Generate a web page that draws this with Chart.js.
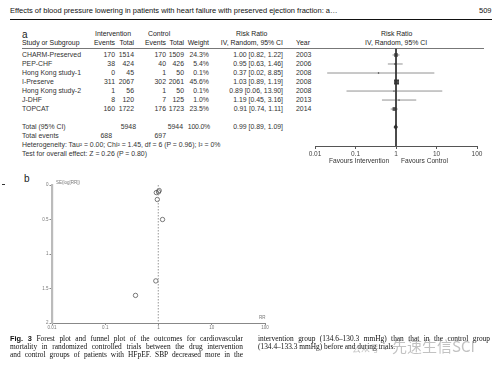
<!DOCTYPE html>
<html>
<head>
<meta charset="utf-8">
<script src="https://cdn.jsdelivr.net/npm/chart.js@4.4.0/dist/chart.umd.min.js"></script>
<style>
body{margin:0;width:498px;height:368px;background:#fff;position:relative;overflow:hidden;font-family:"Liberation Sans",Arial,sans-serif;}
.t{position:absolute;white-space:nowrap;font-size:6.9px;line-height:1;color:#333;}
.r{text-align:right;}
.cap{position:absolute;font-family:"Liberation Serif","Times New Roman",serif;font-size:7.4px;line-height:1;color:#111;white-space:nowrap;}
.j{text-align:justify;text-align-last:justify;white-space:normal;}
canvas{position:absolute;}
</style>
</head>
<body>
<div class="t" style="left:10px;top:7.3px;font-size:7.5px;color:#111">Effects of blood pressure lowering in patients with heart failure with preserved ejection fraction: a…</div>
<div class="t" style="left:479px;top:7.3px;font-size:7.5px;color:#111">509</div>
<div style="position:absolute;left:10px;top:18.7px;width:482px;height:1.6px;background:#111"></div>

<div class="t" style="left:22px;top:30px;font-size:10px;color:#222">a</div>
<div style="position:absolute;left:22px;top:48px;width:462px;height:1px;background:#777"></div>
<div id="table"></div>

<div style="position:absolute;left:305px;top:40px;width:182px;height:124px"><canvas id="forest" width="182" height="124"></canvas></div>
<div class="t" style="left:329px;top:157.5px;font-size:6.6px">Favours Intervention</div>
<div class="t" style="left:401px;top:157.5px;font-size:6.6px">Favours Control</div>

<div class="t" style="left:24px;top:174px;font-size:10px;color:#222">b</div>
<div style="position:absolute;left:2px;top:184px;width:3px;height:0.8px;background:#333"></div>
<div style="position:absolute;left:20px;top:176px;width:255px;height:160px"><canvas id="funnel" width="255" height="160"></canvas></div>
<div class="t" style="left:56px;top:181px;font-size:4.5px;color:#777">SE(log[RR])</div>
<div class="t" style="left:259px;top:316px;font-size:4.5px;color:#777">RR</div>

<div class="cap j" style="left:10px;top:335px;width:233px"><b style="font-family:'Liberation Sans',Arial,sans-serif">Fig. 3</b> Forest plot and funnel plot of the outcomes for cardiovascular</div>
<div class="cap j" style="left:10px;top:343px;width:233px">mortality in randomized controlled trials between the drug intervention</div>
<div class="cap j" style="left:10px;top:351px;width:233px">and control groups of patients with HFpEF. SBP decreased more in the</div>
<div class="cap j" style="left:258px;top:335px;width:232px">intervention group (134.6–130.3 mmHg) than that in the control group</div>
<div class="cap" style="left:258px;top:343px">(134.4–133.3 mmHg) before and during trials.</div>
<div class="t" style="left:352px;top:344px;font-size:9px;color:rgba(120,120,120,0.45);font-family:'Noto Sans CJK SC',sans-serif">公众号 ·</div>
<div class="t" style="left:392px;top:338px;font-size:15px;color:rgba(120,120,120,0.45);font-family:'Noto Sans CJK SC',sans-serif">先速生信SCI</div>

<script>
// data
const studies = ['CHARM-Preserved', 'PEP-CHF', 'Hong Kong study-1', 'I-Preserve', 'Hong Kong study-2', 'J-DHF', 'TOPCAT'];
const intEvents = [170, 38, 0, 311, 1, 8, 160];
const intTotal = [1514, 424, 45, 2067, 56, 120, 1722];
const ctlEvents = [170, 40, 1, 302, 1, 7, 176];
const ctlTotal = [1509, 426, 50, 2061, 50, 125, 1723];
const weights = [24.3, 5.4, 0.1, 45.6, 0.1, 1.0, 23.5];
const rr = [1.00, 0.95, 0.37, 1.03, 0.89, 1.19, 0.91];
const ciLow = [0.82, 0.63, 0.02, 0.89, 0.06, 0.45, 0.74];
const ciHigh = [1.22, 1.46, 8.85, 1.19, 13.90, 3.16, 1.11];
const years = [2003, 2006, 2008, 2008, 2008, 2013, 2014];
const seLogRR = [0.10, 0.21, 1.60, 0.08, 1.39, 0.50, 0.11];

const pooled = 0.99, pooledLow = 0.89, pooledHigh = 1.09;
const totalInt = 5948, totalCtl = 5944, eventsInt = 688, eventsCtl = 697;

const logTicks = [0.01, 0.1, 1, 10, 100];
const logTickLabels = ['0.01', '0.1', '1', '10', '100'];
const seTicks = [0, 0.5, 1, 1.5, 2];
const seTickLabels = ['0', '0.5', '1', '1.5', '2'];

// table text
const table = document.getElementById('table');
function cell(txt, x, y, right, extra) {
    var d = document.createElement('div');
    d.className = 't' + (right ? ' r' : '');
    d.textContent = txt;
    if (right) d.style.right = (498 - x) + 'px';
    else d.style.left = x + 'px';
    d.style.top = (y - 3.7) + 'px';
    if (extra) d.style.cssText += extra;
    table.appendChild(d);
    return d;
}
// column right edges
const cEvI = 115, cTotI = 134, cEvC = 166, cTotC = 184, cW = 209, cRR = 283, cYear = 296;
const hd = 'color:#222';
cell('Intervention', 95, 35, false, hd);
cell('Control', 148, 35, false, hd);
cell('Risk Ratio', 236, 35, false, hd);
cell('Risk Ratio', 381, 35, false, hd);
cell('Study or Subgroup', 22, 43.5, false, hd);
cell('Events', cEvI, 43.5, true, hd);
cell('Total', cTotI, 43.5, true, hd);
cell('Events', cEvC, 43.5, true, hd);
cell('Total', cTotC, 43.5, true, hd);
cell('Weight', cW, 43.5, true, hd);
cell('IV, Random, 95% CI', cRR, 43.5, true, hd);
cell('Year', cYear, 43.5, false, hd);
cell('IV, Random, 95% CI', 365, 43.5, false, hd);

for (var i = 0; i < studies.length; i++) {
    var y = 55.5 + i * 9;
    cell(studies[i], 22, y);
    cell(String(intEvents[i]), cEvI, y, true);
    cell(String(intTotal[i]), cTotI, y, true);
    cell(String(ctlEvents[i]), cEvC, y, true);
    cell(String(ctlTotal[i]), cTotC, y, true);
    cell(weights[i].toFixed(1) + '%', cW, y, true);
    cell(rr[i].toFixed(2) + ' [' + ciLow[i].toFixed(2) + ', ' + ciHigh[i].toFixed(2) + ']', cRR, y, true);
    cell(String(years[i]), cYear, y);
}
cell('Total (95% CI)', 22, 127.5);
cell(String(totalInt), cTotI + 2, 127.5, true);
cell(String(totalCtl), cTotC - 1, 127.5, true);
cell('100.0%', cW + 1, 127.5, true, 'letter-spacing:-0.2px');
cell(pooled.toFixed(2) + ' [' + pooledLow.toFixed(2) + ', ' + pooledHigh.toFixed(2) + ']', cRR, 127.5, true);
cell('Total events', 22, 137);
cell(String(eventsInt), cEvI - 3, 137, true);
cell(String(eventsCtl), cEvC, 137, true);
cell('Heterogeneity: Tau² = 0.00; Chi² = 1.45, df = 6 (P = 0.96); I² = 0%', 22, 146);
cell('Test for overall effect: Z = 0.26 (P = 0.80)', 22, 155);

function fixTicks(vals) {
    return function (scale) { scale.ticks = vals.map(v => ({ value: v })); };
}
function tickText(vals, labels) {
    return function (v) { var k = vals.indexOf(v); return k < 0 ? '' : labels[k]; };
}

// Forest plot
const rowIdx = studies.map((s, i) => i);
const totalRow = 8;
const forestYMin = -0.72, forestYMax = 10.1;
var forestSets = [{
    data: [{ x: 1, y: forestYMin }, { x: 1, y: forestYMax }],
    showLine: true, borderColor: '#333', borderWidth: 1, pointRadius: 0
}];
for (var i = 0; i < studies.length; i++) {
    forestSets.push({
        data: [{ x: ciLow[i], y: rowIdx[i] }, { x: ciHigh[i], y: rowIdx[i] }],
        showLine: true, borderColor: '#777', borderWidth: 0.8, pointRadius: 0
    });
}
forestSets.push({
    data: rr.map((v, i) => ({ x: v, y: rowIdx[i] })),
    pointStyle: 'rect',
    pointRadius: weights.map(w => Math.max(0.9, 0.52 * Math.sqrt(w))),
    backgroundColor: '#3a3a3a', borderWidth: 0
});
forestSets.push({
    data: [{ x: pooledLow, y: totalRow }, { x: pooled, y: totalRow - 0.3 }, { x: pooledHigh, y: totalRow }, { x: pooled, y: totalRow + 0.3 }, { x: pooledLow, y: totalRow }],
    showLine: true, fill: 'shape', backgroundColor: '#111', borderColor: '#111', borderWidth: 0.5, pointRadius: 0
});

new Chart(document.getElementById('forest'), {
    type: 'scatter',
    data: { datasets: forestSets },
    options: {
        responsive: false, animation: false, events: [],
        layout: { padding: { left: 10, right: 10, top: 8.5, bottom: 0 } },
        plugins: { legend: { display: false }, tooltip: { enabled: false } },
        scales: {
            x: {
                type: 'logarithmic', min: 0.01, max: 100,
                afterBuildTicks: fixTicks(logTicks),
                afterFit: function (s) { s.height = 18; s.paddingLeft = 0; s.paddingRight = 0; },
                ticks: { callback: tickText(logTicks, logTickLabels), font: { size: 6.5, family: 'Liberation Sans' }, color: '#444', padding: 1, maxRotation: 0, autoSkip: false },
                grid: { drawOnChartArea: false, tickLength: 3, color: '#555' },
                border: { color: '#555', width: 1 }
            },
            y: { display: false, reverse: true, min: forestYMin, max: forestYMax }
        }
    }
});

// Funnel plot
new Chart(document.getElementById('funnel'), {
    type: 'scatter',
    data: {
        datasets: [{
            data: [{ x: pooled, y: 0 }, { x: pooled, y: 2 }],
            showLine: true, borderColor: '#999', borderWidth: 1, borderDash: [1.5, 1.5], pointRadius: 0
        }, {
            data: rr.map((v, i) => ({ x: v, y: seLogRR[i] })),
            pointStyle: 'circle', pointRadius: 2.2,
            borderColor: '#444', borderWidth: 0.7, backgroundColor: 'rgba(0,0,0,0)'
        }]
    },
    options: {
        responsive: false, animation: false, events: [],
        layout: { padding: { left: 0, right: 10, top: 9, bottom: 0 } },
        plugins: { legend: { display: false }, tooltip: { enabled: false } },
        scales: {
            x: {
                type: 'logarithmic', min: 0.01, max: 100,
                afterBuildTicks: fixTicks(logTicks),
                afterFit: function (s) { s.height = 13; s.paddingLeft = 0; s.paddingRight = 0; },
                ticks: { callback: tickText(logTicks, logTickLabels), font: { size: 4.5, family: 'Liberation Sans' }, color: '#777', padding: 0.5, maxRotation: 0, autoSkip: false },
                grid: { drawOnChartArea: false, tickLength: 2, color: '#888' },
                border: { color: '#888', width: 1 }
            },
            y: {
                reverse: true, min: 0, max: 2,
                afterBuildTicks: fixTicks(seTicks),
                afterFit: function (s) { s.width = 32; s.paddingTop = 0; s.paddingBottom = 0; },
                ticks: { callback: tickText(seTicks, seTickLabels), font: { size: 4.5, family: 'Liberation Sans' }, color: '#777', padding: 1 },
                grid: { drawOnChartArea: false, tickLength: 2.5, color: '#888' },
                border: { color: '#bbb', width: 2.2 }
            }
        }
    }
});
</script>
</body>
</html>
